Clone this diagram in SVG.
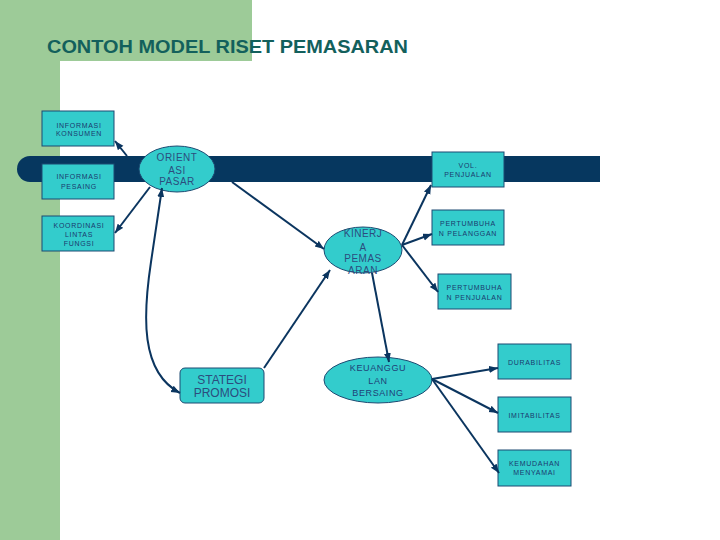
<svg xmlns="http://www.w3.org/2000/svg" width="720" height="540" viewBox="0 0 720 540">
<defs>
<marker id="ah" markerUnits="userSpaceOnUse" markerWidth="10" markerHeight="8" refX="9" refY="3.5" orient="auto">
<path d="M0,0 L9,3.5 L0,7 z" fill="#0b355f"/>
</marker>
<marker id="ahs" markerUnits="userSpaceOnUse" markerWidth="10" markerHeight="8" refX="9" refY="3.5" orient="auto-start-reverse">
<path d="M0,0 L9,3.5 L0,7 z" fill="#0b355f"/>
</marker>
<style>
.box{fill:#33cccc;stroke:#1d4a72;stroke-width:1}
.s{font-family:"Liberation Sans",Arial,sans-serif;font-size:7px;letter-spacing:0.7px;fill:#1b3a6e;text-anchor:middle}
.m{font-family:"Liberation Sans",Arial,sans-serif;font-size:10px;letter-spacing:0.5px;fill:#2c4d7e;text-anchor:middle}
.l{font-family:"Liberation Sans",Arial,sans-serif;font-size:12px;fill:#2c4d7e;text-anchor:middle}
.k{font-family:"Liberation Sans",Arial,sans-serif;font-size:9px;letter-spacing:0.6px;fill:#1f4177;text-anchor:middle}
.c{fill:none;stroke:#0b355f;stroke-width:2}
</style>
</defs>
<rect x="0" y="0" width="720" height="540" fill="#ffffff"/>
<rect x="0" y="0" width="252" height="61" fill="#9dcb98"/>
<rect x="0" y="0" width="60" height="540" fill="#9dcb98"/>
<rect x="60" y="61" width="700" height="520" rx="19" fill="#ffffff"/>
<text x="47" y="53" font-family="'Liberation Sans',Arial,sans-serif" font-size="19" font-weight="bold" fill="#13605c" textLength="361" lengthAdjust="spacingAndGlyphs">CONTOH MODEL RISET PEMASARAN</text>
<path d="M30,156 H600 V182 H30 A13,13 0 0 1 30,156 z" fill="#06375f"/>

<g id="informasi-konsumen"><rect class="box" x="42" y="111" width="72" height="35"/><text class="s" x="79" y="127.5">INFORMASI</text><text class="s" x="79" y="136">KONSUMEN</text></g>
<g id="informasi-pesaing"><rect class="box" x="42" y="164" width="72" height="35"/><text class="s" x="79" y="179">INFORMASI</text><text class="s" x="79" y="188.5">PESAING</text></g>
<g id="koordinasi"><rect class="box" x="42" y="216" width="72" height="35"/><text class="s" x="79" y="227.5">KOORDINASI</text><text class="s" x="79" y="236.5">LINTAS</text><text class="s" x="79" y="245.5">FUNGSI</text></g>
<g id="orientasi-pasar"><ellipse class="box" cx="177" cy="169" rx="38" ry="23"/><text class="m" x="177" y="161">ORIENT</text><text class="m" x="177" y="173.5">ASI</text><text class="m" x="177" y="185">PASAR</text></g>
<g id="vol-penjualan"><rect class="box" x="432" y="152" width="72" height="35"/><text class="s" x="468" y="167.5">VOL.</text><text class="s" x="468" y="176.5">PENJUALAN</text></g>
<g id="pertumbuhan-pelanggan"><rect class="box" x="432" y="210" width="72" height="35"/><text class="s" x="468" y="225.5">PERTUMBUHA</text><text class="s" x="468" y="235.5">N PELANGGAN</text></g>
<g id="pertumbuhan-penjualan"><rect class="box" x="438" y="274" width="73" height="35"/><text class="s" x="474.5" y="289.5">PERTUMBUHA</text><text class="s" x="474.5" y="299.5">N PENJUALAN</text></g>
<g id="kinerja-pemasaran"><ellipse class="box" cx="363" cy="250" rx="39" ry="23"/><text class="m" x="363" y="237">KINERJ</text><text class="m" x="363" y="250.5">A</text><text class="m" x="363" y="262">PEMAS</text><text class="m" x="363" y="273.5">ARAN</text></g>
<g id="stategi-promosi"><rect class="box" x="180" y="368" width="84" height="35" rx="5"/><text class="l" x="222" y="383.5">STATEGI</text><text class="l" x="222" y="396.5">PROMOSI</text></g>
<g id="keunggulan-bersaing"><ellipse class="box" cx="378" cy="380" rx="54" ry="23"/><text class="k" x="378" y="371">KEUANGGU</text><text class="k" x="378" y="383.5">LAN</text><text class="k" x="378" y="395.5">BERSAING</text></g>
<g id="durabilitas"><rect class="box" x="498" y="344" width="73" height="35"/><text class="s" x="534.5" y="364.5">DURABILITAS</text></g>
<g id="imitabilitas"><rect class="box" x="498" y="397" width="73" height="35"/><text class="s" x="534.5" y="417.5">IMITABILITAS</text></g>
<g id="kemudahan-menyamai"><rect class="box" x="498" y="450" width="73" height="36"/><text class="s" x="534.5" y="465.5">KEMUDAHAN</text><text class="s" x="534.5" y="474.5">MENYAMAI</text></g>

<g id="connectors">
<line class="c" x1="127" y1="156" x2="115" y2="141" marker-end="url(#ah)"/>
<line class="c" x1="150" y1="187" x2="115" y2="233" marker-end="url(#ah)"/>
<path class="c" d="M162,188 L151,262 C143,315 140,372 180,393" marker-start="url(#ahs)" marker-end="url(#ah)"/>
<line class="c" x1="232" y1="182" x2="324" y2="249" marker-end="url(#ah)"/>
<line class="c" x1="264" y1="368" x2="330" y2="270" marker-end="url(#ah)"/>
<line class="c" x1="402" y1="245" x2="431" y2="185" marker-end="url(#ah)"/>
<line class="c" x1="402" y1="245" x2="432" y2="234" marker-end="url(#ah)"/>
<line class="c" x1="402" y1="245" x2="438" y2="292" marker-end="url(#ah)"/>
<line class="c" x1="372" y1="273" x2="389" y2="362" marker-end="url(#ah)"/>
<line class="c" x1="432" y1="379" x2="498" y2="368" marker-end="url(#ah)"/>
<line class="c" x1="432" y1="379" x2="498" y2="413" marker-end="url(#ah)"/>
<line class="c" x1="432" y1="379" x2="499" y2="473" marker-end="url(#ah)"/>
</g>
</svg>
